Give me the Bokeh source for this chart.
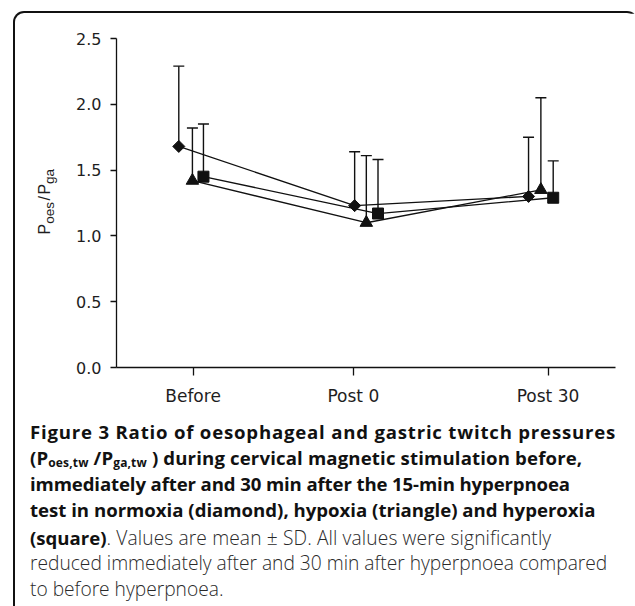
import math
from bokeh.plotting import figure
from bokeh.models import (Range1d, FixedTicker, PrintfTickFormatter, Whisker, TeeHead,
                          ColumnDataSource, Div, GlobalInlineStyleSheet)
from bokeh.layouts import column, row
from bokeh.embed import file_html
from bokeh.resources import INLINE

# ---------------- data ----------------
time_labels = ["Before", "Post 0", "Post 30"]
time_ticks = [-24.7, 0, 30]          # minutes relative to end of hyperpnoea
y_ticks = [0.0, 0.5, 1.0, 1.5, 2.0, 2.5]

normoxia_x = [-26.9, 0.2, 27.0]
normoxia_mean = [1.68, 1.23, 1.30]
normoxia_sd = [0.61, 0.41, 0.45]

hypoxia_x = [-24.8, 2.0, 28.9]
hypoxia_mean = [1.42, 1.10, 1.35]
hypoxia_sd = [0.40, 0.51, 0.70]

hyperoxia_x = [-23.1, 3.8, 30.8]
hyperoxia_mean = [1.45, 1.17, 1.29]
hyperoxia_sd = [0.40, 0.41, 0.28]

INK = "#111111"
FIG_H = 399
FIG_W = 576
YLAB_W = 45

p = figure(width=FIG_W, height=FIG_H,
           x_range=Range1d(-36.5, 40.4), y_range=Range1d(0, 2.5),
           output_backend="svg", toolbar_location=None,
           min_border_left=56, min_border_right=21,
           min_border_top=25, min_border_bottom=45,
           background_fill_color="white", border_fill_color="white")
p.outline_line_color = None
p.grid.visible = False

xa = p.xaxis[0]
ya = p.yaxis[0]
for ax in (xa, ya):
    ax.axis_line_color = INK
    ax.axis_line_width = 1.3
    ax.major_tick_line_color = INK
    ax.major_tick_line_width = 1.3
    ax.minor_tick_line_color = None
    ax.major_tick_in = 0
    ax.major_label_text_font = "DejaVu Sans"
    ax.major_label_text_color = "#1e1e1e"

xa.ticker = FixedTicker(ticks=time_ticks)
xa.major_label_overrides = {t: l for t, l in zip(time_ticks, time_labels)}
xa.major_tick_out = 8
xa.major_label_standoff = 10
xa.major_label_text_font_size = "17px"

ya.ticker = FixedTicker(ticks=y_ticks)
ya.formatter = PrintfTickFormatter(format="%.1f")
ya.major_tick_out = 6
ya.major_label_standoff = 9
ya.major_label_text_font_size = "16px"

series = [
    (normoxia_x, normoxia_mean, normoxia_sd, "square", 8.5, math.pi / 4),
    (hypoxia_x, hypoxia_mean, hypoxia_sd, "triangle", 12.5, 0.0),
    (hyperoxia_x, hyperoxia_mean, hyperoxia_sd, "square", 11, 0.0),
]
for xs, m, sd, marker, size, ang in series:
    src = ColumnDataSource(dict(x=xs, mean=m, upper=[a + b for a, b in zip(m, sd)]))
    p.add_layout(Whisker(source=src, base="x", upper="upper", lower="mean",
                         dimension="height", line_color=INK, line_width=1.4,
                         upper_head=TeeHead(size=11, line_color=INK, line_width=1.4),
                         lower_head=None))
    p.line("x", "mean", source=src, line_color=INK, line_width=1.3)
    p.scatter("x", "mean", source=src, marker=marker, size=size, angle=ang,
              fill_color=INK, line_color=INK)

# y-axis title  P_oes / P_ga  (rotated HTML text to the left of the figure)
YSUB = "font-size:13.5px;position:relative;top:4px"
ylab_html = (
    f'<div style="position:relative;width:{YLAB_W}px;height:{FIG_H}px;">'
    f'<div style="position:absolute;left:0;top:0;width:{FIG_H}px;height:{YLAB_W}px;'
    f'transform-origin:0 0;transform:translate(0px,{FIG_H}px) rotate(-90deg);'
    'box-sizing:border-box;padding:19.5px 0 0 177.5px;'
    "font-family:'Liberation Sans';font-size:16px;line-height:20px;"
    'white-space:nowrap;color:#1e1e1e">'
    f'P<span style="{YSUB}">oes</span><span style="margin:0 1.5px">/</span>'
    f'P<span style="{YSUB}">ga</span></div></div>'
)
ylab = Div(text=ylab_html, width=YLAB_W, height=FIG_H, margin=(0, 0, 0, 0))

B = "font-weight:700;color:#111"
R = "font-weight:300;font-size:19.2px;color:#2a2a2a"
SUB = "font-size:12px;position:relative;top:2.5px"
caption_lines = [
    (26.0, f'<span style="{B};letter-spacing:0.8px">Figure 3 Ratio of oesophageal and gastric twitch pressures</span>'),
    (26.7, f'<span style="{B};letter-spacing:0.15px">(P<span style="{SUB}">oes,tw</span> /P<span style="{SUB}">ga,tw</span> ) during cervical magnetic stimulation before,</span>'),
    (25.3, f'<span style="{B};letter-spacing:-0.12px">immediately after and 30 min after the 15-min hyperpnoea</span>'),
    (28.7, f'<span style="{B}">test in normoxia (diamond), hypoxia (triangle) and hyperoxia</span>'),
    (25.0, f'<span style="{B}">(square)</span><span style="{R};letter-spacing:0.12px">. Values are mean ± SD. All values were significantly</span>'),
    (25.8, f'<span style="{R}">reduced immediately after and 30 min after hyperpnoea compared</span>'),
    (25.8, f'<span style="{R}">to before hyperpnoea.</span>'),
]
cap_html = ('<div style="font-family:\'Open Sans\';font-size:18.6px;'
            'white-space:nowrap;padding:6.7px 0 0 15px;color:#111">'
            + "".join(f'<div style="height:{h}px;line-height:25.8px">{t}</div>'
                      for h, t in caption_lines)
            + "</div>")
cap = Div(text=cap_html, width=YLAB_W + FIG_W, height=215, margin=(0, 0, 0, 0))

gss = GlobalInlineStyleSheet(css="html, body { overflow: hidden; }")
lay = column(row(ylab, p), cap, margin=(11, 0, 0, 13), stylesheets=[gss],
             styles={"border-top": "2px solid #111", "border-left": "2px solid #111",
                     "border-right": "2px solid #111",
                     "border-radius": "11px 11px 0 0"})

open("out.html", "w").write(file_html(lay, INLINE))
